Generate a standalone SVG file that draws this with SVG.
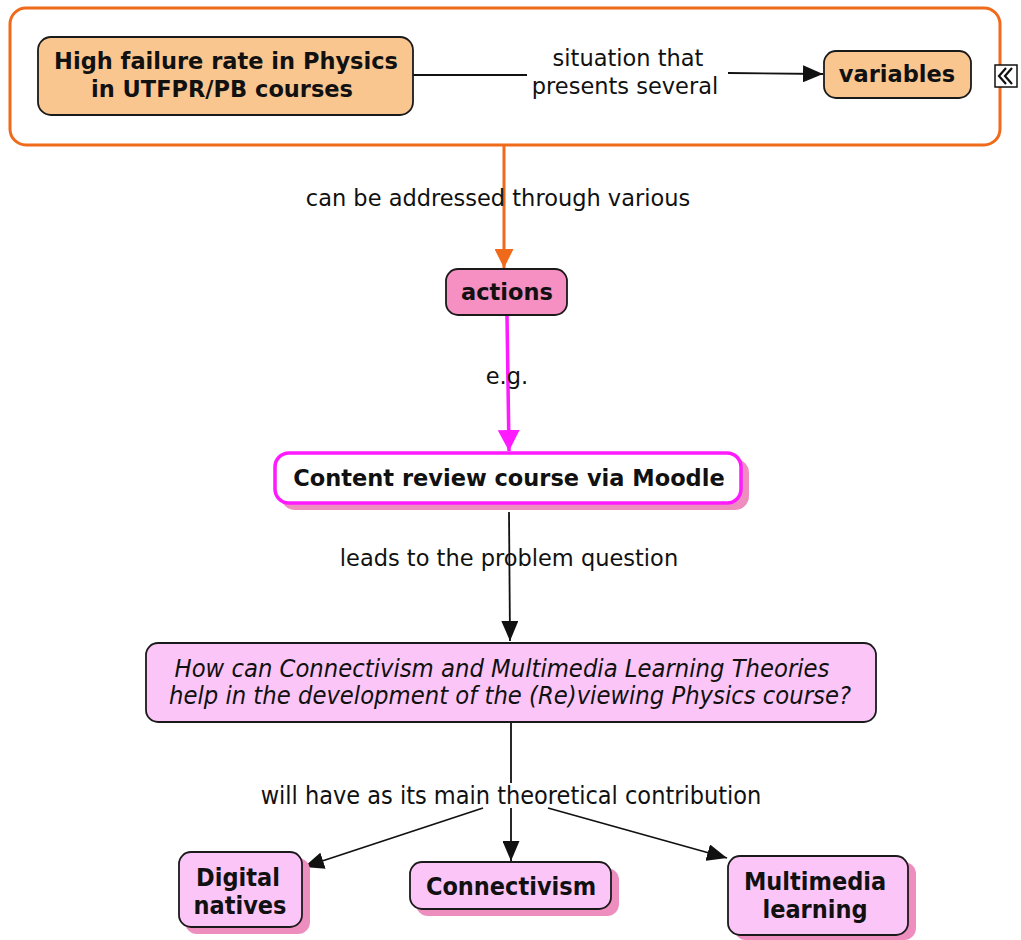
<svg xmlns="http://www.w3.org/2000/svg" width="1021" height="940" viewBox="0 0 1021 940">
  <defs>
    <style>
      .bg { fill: #ffffff; }
      .node { stroke: #1a1a1a; stroke-width: 1.8; }
      .peach { fill: #f9c690; }
      .pink { fill: #f68fc2; }
      .lilac { fill: #fbc6f7; }
      .shadow { fill: #ee8ebf; }
      .title { font-family: "DejaVu Sans", Verdana, sans-serif; font-weight: bold; font-size: 22.5px; fill: #111; text-anchor: middle; dominant-baseline: central; }
      .titlec { font-family: "DejaVu Sans Condensed", "DejaVu Sans", sans-serif; font-weight: bold; font-size: 25px; fill: #111; text-anchor: middle; dominant-baseline: central; }
      .label { font-family: "DejaVu Sans", Verdana, sans-serif; font-size: 22.5px; fill: #111; text-anchor: middle; dominant-baseline: central; }
      .labelc { font-family: "DejaVu Sans Condensed", "DejaVu Sans", sans-serif; font-size: 25px; fill: #111; text-anchor: middle; dominant-baseline: central; }
      .question { font-family: "DejaVu Sans Condensed", "DejaVu Sans", sans-serif; font-style: italic; font-size: 25.3px; fill: #111; text-anchor: middle; dominant-baseline: central; }
      .wire { fill: none; stroke: #111; stroke-width: 1.8; }
      .wire-orange { fill: none; stroke: #ef6a1a; stroke-width: 3; }
      .wire-magenta { fill: none; stroke: #ff1aff; stroke-width: 3.5; }
      .chevron { fill: none; stroke: #111; stroke-width: 2.2; stroke-linejoin: miter; }
    </style>
    <marker id="arrow-black" viewBox="0 0 10 10" refX="10" refY="5" markerWidth="20" markerHeight="17" markerUnits="userSpaceOnUse" orient="auto" preserveAspectRatio="none">
      <path d="M0,0 L10,5 L0,10 z" fill="#111"/>
    </marker>
    <marker id="arrow-orange" viewBox="0 0 10 10" refX="10" refY="5" markerWidth="19" markerHeight="19" markerUnits="userSpaceOnUse" orient="auto" preserveAspectRatio="none">
      <path d="M0,0 L10,5 L0,10 z" fill="#ef6a1a"/>
    </marker>
    <marker id="arrow-magenta" viewBox="0 0 10 10" refX="10" refY="5" markerWidth="21" markerHeight="22" markerUnits="userSpaceOnUse" orient="auto" preserveAspectRatio="none">
      <path d="M0,0 L10,5 L0,10 z" fill="#ff1aff"/>
    </marker>
  </defs>

  <rect class="bg" x="0" y="0" width="1021" height="940"/>

  <!-- orange group frame -->
  <g id="frame">
    <rect x="10" y="8" width="990" height="137" rx="16" fill="#fff" stroke="#ef6a1a" stroke-width="3"/>
  </g>

  <!-- connectors -->
  <g id="connectors">
    <path class="wire" d="M413,75 L527,75"/>
    <path class="wire" d="M728,73 L823,74" marker-end="url(#arrow-black)"/>
    <path class="wire-orange" d="M504,145 L504,268" marker-end="url(#arrow-orange)"/>
    <path class="wire-magenta" d="M507,316 L509,451" marker-end="url(#arrow-magenta)"/>
    <path class="wire" d="M509,512 L510,641" marker-end="url(#arrow-black)"/>
    <path class="wire" d="M511,722 L511,783"/>
    <path class="wire" d="M483,808 L304,867" marker-end="url(#arrow-black)"/>
    <path class="wire" d="M511,808 L511,861" marker-end="url(#arrow-black)"/>
    <path class="wire" d="M548,808 L727,858" marker-end="url(#arrow-black)"/>

    <text class="label" x="628" y="58">situation that</text>
    <text class="label" x="625" y="86">presents several</text>
    <text class="label" x="498" y="198">can be addressed through various</text>
    <text class="label" x="507" y="376">e.g.</text>
    <text class="label" x="509" y="558">leads to the problem question</text>
    <text class="labelc" x="511" y="795">will have as its main theoretical contribution</text>
  </g>

  <g id="node-failure">
    <rect class="node peach" x="38" y="37" width="375" height="78" rx="13"/>
    <text class="title" x="226" y="61">High failure rate in Physics</text>
    <text class="title" x="222" y="89">in UTFPR/PB courses</text>
  </g>

  <g id="node-variables">
    <rect class="node peach" x="824" y="51" width="147" height="47" rx="12"/>
    <text class="title" x="897" y="74">variables</text>
  </g>

  <!-- collapse toggle on the frame edge -->
  <g id="node-collapse">
    <rect x="995" y="65" width="22" height="22" fill="#fff" stroke="#111" stroke-width="1.5"/>
    <polyline class="chevron" points="1006,68 999,76 1006,84"/>
    <polyline class="chevron" points="1012,68 1005,76 1012,84"/>
  </g>

  <g id="node-actions">
    <rect class="node pink" x="446" y="269" width="121" height="46" rx="12"/>
    <text class="title" x="507" y="292">actions</text>
  </g>

  <g id="node-moodle">
    <rect class="shadow" x="281" y="459" width="468" height="51" rx="14"/>
    <rect x="275" y="453" width="466" height="50" rx="14" fill="#fff" stroke="#ff1aff" stroke-width="3.5"/>
    <text class="title" x="509" y="478">Content review course via Moodle</text>
  </g>

  <g id="node-question">
    <rect class="node lilac" x="146" y="643" width="730" height="79" rx="12"/>
    <text class="question" x="502" y="668">How can Connectivism and Multimedia Learning Theories</text>
    <text class="question" x="510" y="695">help in the development of the (Re)viewing Physics course?</text>
  </g>

  <g id="node-digital">
    <rect class="shadow" x="185" y="858" width="125" height="76" rx="12"/>
    <rect class="node lilac" x="179" y="852" width="123" height="75" rx="12"/>
    <text class="titlec" x="238" y="877">Digital</text>
    <text class="titlec" x="240" y="905">natives</text>
  </g>

  <g id="node-connectivism">
    <rect class="shadow" x="416" y="868" width="203" height="48" rx="12"/>
    <rect class="node lilac" x="410" y="862" width="201" height="47" rx="12"/>
    <text class="titlec" x="511" y="886">Connectivism</text>
  </g>

  <g id="node-multimedia">
    <rect class="shadow" x="734" y="862" width="182" height="78" rx="12"/>
    <rect class="node lilac" x="728" y="856" width="180" height="79" rx="12"/>
    <text class="titlec" x="815" y="881">Multimedia</text>
    <text class="titlec" x="815" y="909">learning</text>
  </g>
</svg>
